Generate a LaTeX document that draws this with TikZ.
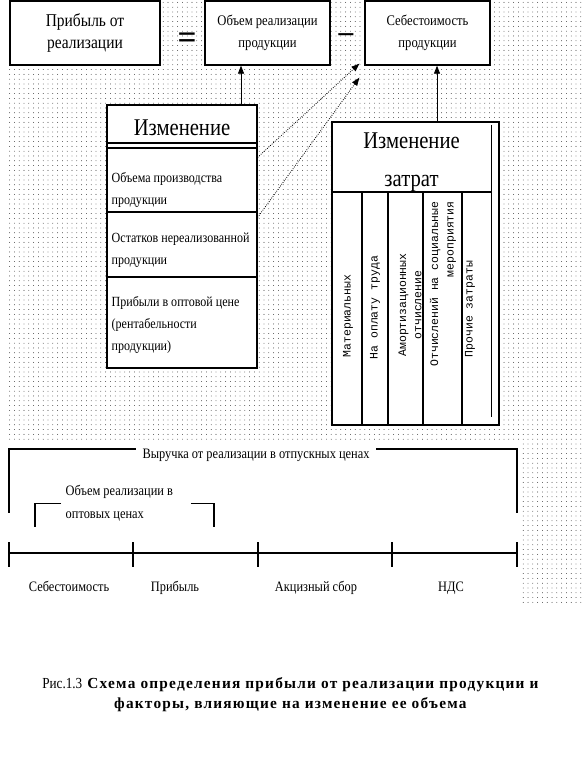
\documentclass[tikz,border=0pt]{standalone}
\usepackage{fontspec}
\setmainfont{Liberation Serif}
\newfontfamily\narrowfont[FakeStretch=0.86]{Liberation Serif}
\newfontfamily\colfont{Liberation Mono}
\newfontfamily\capfont[LetterSpace=8]{Liberation Serif}
\usetikzlibrary{arrows.meta, positioning, calc, patterns.meta}

\begin{document}
\begin{tikzpicture}[x=0.75pt, y=-0.75pt, >={Triangle[length=6pt,width=4.5pt]},
  box/.style={draw, line width=1pt, fill=white, align=center, inner sep=0pt},
  head/.style={align=center, font=\narrowfont\fontsize{18}{28.5}\selectfont},
  item/.style={anchor=west, align=left, font=\narrowfont\fontsize{10.5}{16.5}\selectfont},
  col/.style={rotate=90, font=\colfont\fontsize{8.6}{11.5}\selectfont},
  low/.style={font=\narrowfont\fontsize{10.8}{17}\selectfont},
  link/.style={->, line width=0.6pt},
  dotlink/.style={->, line width=0.6pt, densely dotted}]
  \useasboundingbox (0,0) rectangle (583,780);
  \fill[white] (0,0) rectangle (583,780);
  % dotted background
  \fill[pattern={Dots[distance=3.6pt, radius=0.3pt]}, pattern color=black]
    (8,0) -- (583,0) -- (583,603) -- (520,603) -- (520,440) -- (8,440) -- cycle;

  % the equation
  \node[box, minimum width=112.5pt, minimum height=48pt,
        font=\narrowfont\fontsize{13.5}{17}\selectfont] (profit) at (85,33) {Прибыль от\\реализации};
  \node[box, minimum width=93.75pt, minimum height=48pt,
        font=\narrowfont\fontsize{11}{17}\selectfont] (volume) at (267.5,33) {Объем реализации\\продукции};
  \node[box, minimum width=93.75pt, minimum height=48pt,
        font=\narrowfont\fontsize{11}{17}\selectfont] (cost) at (427.5,33) {Себестоимость\\продукции};
  \node[font=\fontsize{25}{25}\selectfont\bfseries] (eq) at (187,41) {=};
  \node[font=\fontsize{22}{22}\selectfont\bfseries] (minus) at (346,38) {–};

  % volume factors
  \node[box, minimum width=112.5pt, minimum height=197.25pt] (izm) at (182,236.5) {};
  \node[head] (izmT) at (182,128) {Изменение};
  \draw[line width=1.1pt] (izm.west |- 0,143) -- (izm.east |- 0,143);
  \draw[line width=1.1pt] (izm.west |- 0,148) -- (izm.east |- 0,148);
  \draw[line width=1.4pt] (izm.west |- 0,212) -- (izm.east |- 0,212);
  \draw[line width=0.8pt] (izm.west |- 0,277) -- (izm.east |- 0,277);
  \node[item] (i1) at (107,190) {Объема производства\\продукции};
  \node[item] (i2) at (107,250) {Остатков нереализованной\\продукции};
  \node[item] (i3) at (107,325) {Прибыли в оптовой цене\\(рентабельности\\продукции)};

  % cost factors
  \node[box, minimum width=125.25pt, minimum height=227.25pt] (zat) at (415.5,273.5) {};
  \node[head] (zatT) at (411.5,162) {Изменение\\затрат};
  \draw[line width=0.7pt] (491,125) -- (491,417);
  \draw[line width=1.4pt] (zat.west |- 0,192) -- (491,192);
  \foreach \x in {362,388,423,462}
    \draw[line width=0.8pt] (\x,192) -- (zat.south -| \x,0);
  \node[col, anchor=west] (c1) at (348,362) {Материальных};
  \node[col, anchor=west] (c2) at (375,364) {На оплату труда};
  \node[col, align=center] (c3) at (410,305) {Амортизационных\\отчисление};
  \node[col, align=right] (c4) at (443,284) {Отчислений на социальные\\мероприятия};
  \node[col, anchor=west] (c5) at (470,362) {Прочие затраты};

  % links
  \coordinate (vx) at (241,0);
  \coordinate (cx) at (437,0);
  \draw[link] (izm.north -| vx) -- (volume.south -| vx);
  \draw[link] (zat.north -| cx) -- (cost.south -| cx);
  \draw[dotlink] ($(izm.north east)+(0,53)$) -- ($(cost.south west)+(-5,-2)$);
  \draw[dotlink] ($(izm.north east)+(0,113)$) -- ($(cost.south west)+(-5,12)$);

  % revenue scale
  \node[low, inner xsep=5pt] (rev) at (256,455) {Выручка от реализации в отпускных ценах};
  \coordinate (rtl) at (9,449);
  \coordinate (rbl) at (9,513);
  \coordinate (rtr) at (517,449);
  \coordinate (rbr) at (517,513);
  \draw[line width=0.8pt] (rev.west |- rtl) -- (rtl) -- (rbl);
  \draw[line width=0.8pt] (rev.east |- rtr) -- (rtr) -- (rbr);
  \node[low, anchor=west, align=left] (whole) at (61,503.5) {Объем реализации в\\оптовых ценах};
  \coordinate (il) at (35,527);
  \coordinate (ir) at (214,527);
  \draw[line width=0.8pt] (whole.west) -| (il);
  \draw[line width=0.8pt] ([xshift=10pt]whole.east) -| (ir);
  \foreach \n/\x in {0/9,1/133,2/258,3/392,4/517} {
    \coordinate (t\n) at (\x,553);
    \draw[line width=0.8pt] ($(t\n)+(0,-11)$) -- ($(t\n)+(0,14)$);
  }
  \draw[line width=0.8pt] (t0) -- (t4);
  \node[low, anchor=base] (l1) at (69,591) {Себестоимость};
  \node[low, anchor=base] (l2) at (175,591) {Прибыль};
  \node[low, anchor=base] (l3) at (316,591) {Акцизный сбор};
  \node[low, anchor=base] (l4) at (451,591) {НДС};

  % caption
  \node[align=center, font=\capfont\fontsize{11.5}{15}\selectfont] (cap) at (291,695)
    {{\narrowfont Рис.1.3} \textbf{Схема определения прибыли от реализации продукции и}\\
     \textbf{факторы, влияющие на изменение ее объема}};
\end{tikzpicture}
\end{document}
